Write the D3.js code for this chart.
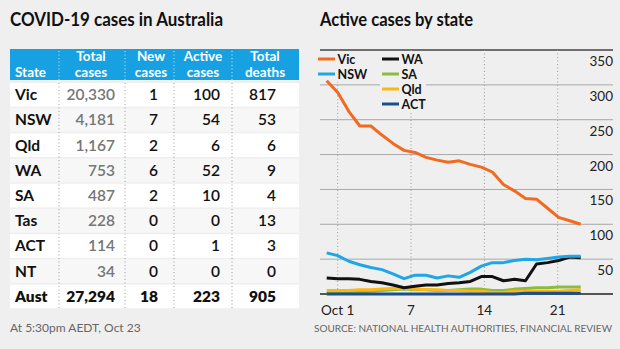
<!DOCTYPE html>
<html>
<head>
<meta charset="utf-8">
<script src="https://cdn.jsdelivr.net/npm/d3@7/dist/d3.min.js"></script>
<style>
  body { margin: 0; background: #efefef; }
  svg { display: block; font-family: Lato, "Open Sans", sans-serif; }
</style>
</head>
<body>
<div id="chart"></div>
<script>
var width = 620,
    height = 349;

// table values
var states = ["Vic", "NSW", "Qld", "WA", "SA", "Tas", "ACT", "NT"];
var totalCases = [20330, 4181, 1167, 753, 487, 228, 114, 34];
var newCases = [1, 7, 2, 6, 2, 0, 0, 0];
var activeCases = [100, 54, 6, 52, 10, 0, 1, 0];
var totalDeaths = [817, 53, 6, 9, 4, 13, 3, 0];
var totalRow = ["Aust", 27294, 18, 223, 905];
var headers = [["State"], ["Total", "cases"], ["New", "cases"], ["Active", "cases"], ["Total", "deaths"]];

// active cases by day, Sep 30 - Oct 23
var dates = ["2020-09-30", "2020-10-01", "2020-10-02", "2020-10-03", "2020-10-04", "2020-10-05",
  "2020-10-06", "2020-10-07", "2020-10-08", "2020-10-09", "2020-10-10", "2020-10-11",
  "2020-10-12", "2020-10-13", "2020-10-14", "2020-10-15", "2020-10-16", "2020-10-17",
  "2020-10-18", "2020-10-19", "2020-10-20", "2020-10-21", "2020-10-22", "2020-10-23"];
var vic = [306, 289, 262, 241, 241, 228, 216, 206, 203, 196, 192, 189, 191, 186, 182, 175, 157, 148, 137, 136, 123, 110, 105, 100];
var nsw = [59, 55, 47, 42, 38, 35, 29, 22, 27, 27, 23, 26, 24, 31, 40, 45, 45, 48, 50, 49, 51, 53, 54, 54];
var wa = [23, 22, 22, 21, 18, 16, 13, 9, 11, 13, 13, 15, 16, 18, 25, 25, 19, 21, 19, 43, 45, 48, 53, 52];
var sa = [1, 2, 3, 3, 4, 5, 6, 7, 6, 6, 5, 5, 6, 7, 7, 5, 5, 7, 8, 9, 9, 10, 10, 10];
var qld = [5, 5, 5, 6, 6, 7, 8, 8, 7, 6, 6, 5, 5, 4, 4, 2, 2, 4, 4, 4, 4, 4, 5, 6];
var act = [0, 0, 0, 0, 0, 0, 0, 0, 0, 0, 0, 0, 0, 0, 0, 0, 0, 0, 1, 1, 1, 1, 1, 1];
var yTicks = [50, 100, 150, 200, 250, 300, 350];
var xTickLabels = ["Oct 1", "7", "14", "21"];

var series = [
  {name: "SA", values: sa, color: "#8dbb3f"},
  {name: "Qld", values: qld, color: "#fbb614"},
  {name: "ACT", values: act, color: "#1b4e8c"},
  {name: "WA", values: wa, color: "#111111"},
  {name: "NSW", values: nsw, color: "#1fa6e6"},
  {name: "Vic", values: vic, color: "#f26a21"}
];
var legendCols = [["Vic", "NSW"], ["WA", "SA", "Qld", "ACT"]];

var svg = d3.select("#chart")
    .append("svg")
    .attr("width", width)
    .attr("height", height);

svg.append("rect")
    .attr("width", width)
    .attr("height", height)
    .attr("fill", "#efefef");

var fmt = d3.format(",");

// ---- left: table ----
svg.append("text")
    .attr("x", 10)
    .attr("y", 26)
    .attr("font-size", 18.5)
    .attr("font-weight", 700)
    .attr("fill", "#111")
    .attr("textLength", 213)
    .attr("lengthAdjust", "spacingAndGlyphs")
    .text("COVID-19 cases in Australia");

var tableX = 10, tableW = 289;
var headTop = 49, headH = 31;
var rowTop = 83, rowPitch = 25.2, rowH = 23.6;
var colSep = [59, 125, 174, 232];
var colRight = [null, 115, 158, 220, 276];
var headCenter = [null, 91, 151, 203, 265];

svg.append("rect")
    .attr("x", tableX)
    .attr("y", headTop)
    .attr("width", tableW)
    .attr("height", headH)
    .attr("fill", "#17a1e2");

// header cells, two lines where needed
var head = svg.append("g")
    .attr("class", "header")
    .attr("font-size", 13.5)
    .attr("font-weight", 700)
    .attr("fill", "#fff");
headers.forEach(function(lines, c) {
  var cx = c === 0 ? 15 : headCenter[c];
  lines.forEach(function(line, k) {
    head.append("text")
        .attr("x", cx)
        .attr("y", 77 - (lines.length - 1 - k) * 16.5)
        .attr("text-anchor", c === 0 ? "start" : "middle")
        .text(line);
  });
});

var rows = states.map(function(s, i) {
  return [s, totalCases[i], newCases[i], activeCases[i], totalDeaths[i]];
});
rows.push(totalRow);

var body = svg.append("g").attr("class", "rows");
var row = body.selectAll("g")
    .data(rows)
    .enter().append("g")
    .attr("transform", function(d, i) { return "translate(0," + (rowTop + i * rowPitch) + ")"; });

row.append("rect")
    .attr("x", tableX)
    .attr("width", tableW)
    .attr("height", rowH)
    .attr("fill", function(d, i) { return i % 2 === 0 ? "#ffffff" : "#f7f7f7"; });

row.selectAll("text")
    .data(function(d, i) { return d.map(function(v, c) { return {v: v, c: c, last: i === rows.length - 1}; }); })
    .enter().append("text")
    .attr("x", function(d) { return d.c === 0 ? 15 : colRight[d.c]; })
    .attr("y", rowH / 2 + 5.5)
    .attr("text-anchor", function(d) { return d.c === 0 ? "start" : "end"; })
    .attr("font-size", 15.5)
    .attr("font-weight", function(d) { return d.last ? 800 : (d.c === 0 ? 700 : 600); })
    .attr("fill", function(d) { return d.c === 1 && !d.last ? "#767676" : "#111"; })
    .text(function(d) { return d.c === 0 ? d.v : fmt(d.v); });

// dotted column separators
colSep.forEach(function(x) {
  svg.append("line")
      .attr("x1", x).attr("x2", x)
      .attr("y1", headTop + 2).attr("y2", headTop + headH)
      .attr("stroke", "#d8eefa")
      .attr("stroke-dasharray", "1,2.5");
  svg.append("line")
      .attr("x1", x).attr("x2", x)
      .attr("y1", rowTop).attr("y2", rowTop + rows.length * rowPitch)
      .attr("stroke", "#9a9a9a")
      .attr("stroke-dasharray", "1,2.5");
});

// ---- right: line chart ----
svg.append("text")
    .attr("x", 320)
    .attr("y", 26)
    .attr("font-size", 18.5)
    .attr("font-weight", 700)
    .attr("fill", "#111")
    .attr("textLength", 153)
    .attr("lengthAdjust", "spacingAndGlyphs")
    .text("Active cases by state");

var parse = d3.timeParse("%Y-%m-%d");
var days = dates.map(parse);

var x = d3.scaleTime()
    .domain(d3.extent(days))
    .range([326.7, 580.7]);
var y = d3.scaleLinear()
    .domain([0, 350])
    .range([294, 50]);
var xLabel = d3.scalePoint()
    .domain(xTickLabels)
    .range([337.7, 557.7]);

var gridLeft = 320, gridRight = 613;

svg.append("g")
    .attr("class", "grid")
    .selectAll("line")
    .data(yTicks)
    .enter().append("line")
    .attr("x1", gridLeft)
    .attr("x2", gridRight)
    .attr("y1", function(d) { return y(d); })
    .attr("y2", function(d) { return y(d); })
    .attr("stroke", function(d) { return d === 350 ? "#6e6e6e" : "#a8a8a8"; })
    .attr("stroke-width", function(d) { return d === 350 ? 2.2 : 1; });

svg.append("g")
    .attr("class", "y-labels")
    .selectAll("text")
    .data(yTicks)
    .enter().append("text")
    .attr("x", gridRight)
    .attr("y", function(d) { return y(d) + 16; })
    .attr("text-anchor", "end")
    .attr("font-size", 13.5)
    .attr("fill", "#222")
    .text(function(d) { return d; });

svg.append("g")
    .attr("class", "x-grid")
    .selectAll("line")
    .data(xTickLabels)
    .enter().append("line")
    .attr("x1", function(d) { return xLabel(d); })
    .attr("x2", function(d) { return xLabel(d); })
    .attr("y1", y(350))
    .attr("y2", y(0))
    .attr("stroke", "#999")
    .attr("stroke-dasharray", "1,2.5");

svg.append("g")
    .attr("class", "x-labels")
    .selectAll("text")
    .data(xTickLabels)
    .enter().append("text")
    .attr("x", function(d) { return xLabel(d); })
    .attr("y", 315)
    .attr("text-anchor", "middle")
    .attr("font-size", 13.5)
    .attr("fill", "#222")
    .text(function(d) { return d; });

svg.append("line")
    .attr("x1", gridLeft)
    .attr("x2", gridRight)
    .attr("y1", y(0))
    .attr("y2", y(0))
    .attr("stroke", "#222")
    .attr("stroke-width", 1.5);

// legend, on a plain box over the grid
var colorOf = {};
series.forEach(function(s) { colorOf[s.name] = s.color; });
var legendX = [318, 382], legendW = [52, 46], legendPitch = 15;
var legend = svg.append("g").attr("class", "legend");
legendCols.forEach(function(names, c) {
  legend.append("rect")
      .attr("x", legendX[c] - 2)
      .attr("y", 51.5)
      .attr("width", legendW[c])
      .attr("height", names.length * legendPitch)
      .attr("fill", "#efefef");
  names.forEach(function(name, k) {
    var cy = 59 + k * legendPitch;
    legend.append("line")
        .attr("x1", legendX[c]).attr("x2", legendX[c] + 17)
        .attr("y1", cy).attr("y2", cy)
        .attr("stroke", colorOf[name])
        .attr("stroke-width", 3);
    legend.append("text")
        .attr("x", legendX[c] + 19.5)
        .attr("y", cy + 4.5)
        .attr("font-size", 12.5)
        .attr("font-weight", 700)
        .attr("fill", "#111")
        .text(name);
  });
});

var line = d3.line()
    .x(function(d, i) { return x(days[i]); })
    .y(function(d) { return y(d); });

svg.append("g")
    .attr("class", "lines")
    .selectAll("path")
    .data(series)
    .enter().append("path")
    .attr("d", function(d) { return line(d.values); })
    .attr("fill", "none")
    .attr("stroke", function(d) { return d.color; })
    .attr("stroke-width", 3)
    .attr("stroke-linejoin", "round");

// footer
svg.append("text")
    .attr("x", 10)
    .attr("y", 332)
    .attr("font-size", 12)
    .attr("fill", "#666")
    .text("At 5:30pm AEDT, Oct 23");
svg.append("text")
    .attr("x", 612)
    .attr("y", 332)
    .attr("text-anchor", "end")
    .attr("font-size", 10)
    .attr("fill", "#666")
    .text("SOURCE: NATIONAL HEALTH AUTHORITIES, FINANCIAL REVIEW");
</script>
</body>
</html>
